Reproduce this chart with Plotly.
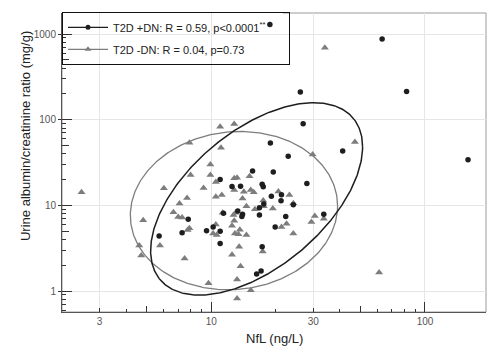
import numpy as np
import plotly.graph_objects as go

# ---------------- data ----------------
# T2D +DN (black circles): NfL (ng/L), UACR (mg/g)
dn_nfl = [18.8, 63, 82, 159, 26.1, 26.9, 18.9, 22.9, 41.2, 15.6,
          19.5, 17.3, 17.5, 28.0, 12.5, 13.7, 11.0, 19.1, 21.3, 21.2,
          24.2, 16.8, 17.6, 13.3, 14.0, 13.9, 16.8, 22.3, 19.9, 33.6,
          17.3, 16.3, 17.1, 7.8, 7.3, 5.7, 9.5, 10.2, 11.0, 11.0, 11.4]
dn_uacr = [1290, 875, 213, 34, 210, 90, 53.6, 37.4, 43.2, 25.2,
           24.5, 17.7, 16.5, 18.0, 16.6, 16.7, 20.1, 12.8, 13.3, 11.3,
           10.2, 9.4, 10.4, 8.6, 7.9, 7.4, 7.7, 7.4, 5.6, 7.9,
           3.3, 1.58, 1.71, 6.9, 4.8, 4.4, 5.05, 5.6, 5.0, 3.6, 8.1]

# T2D -DN (grey triangles)
nodn_nfl = [2.47, 34, 47, 61, 29.8, 11.0, 12.8, 7.9, 11.1, 9.9,
            9.9, 8.0, 10.5, 12.8, 13.2, 15.1, 6.0, 9.2, 7.7, 7.1,
            4.8, 6.65, 7.0, 7.3, 7.9, 7.75, 4.6, 5.75, 4.7, 7.5,
            9.7, 10.5, 11.2, 10.5, 10.2, 10.6, 11.3, 12.8, 14.2, 15.3,
            15.8, 14.0, 17.5, 20.6, 23.2, 24.2, 14.6, 16.0, 17.6, 19.4,
            13.0, 12.7, 12.8, 12.5, 13.6, 12.9, 13.4, 14.6, 22.5, 21.3,
            24.2, 29.4, 30.5, 33.6, 13.5, 12.5, 17.4, 13.7, 13.2, 15.3, 13.2]
nodn_uacr = [14.2, 690, 55, 1.65, 39.3, 83, 89, 54, 47, 30,
             22.6, 22.6, 18.7, 20.7, 21.0, 21.9, 15.8, 16.0, 12.2, 10.5,
             6.7, 8.3, 7.3, 7.2, 5.4, 5.15, 3.4, 3.4, 2.6, 2.4,
             1.23, 12.6, 13.2, 6.0, 4.7, 4.5, 8.2, 15.1, 14.4, 15.1,
             14.2, 12.0, 11.4, 14.5, 13.2, 10.6, 9.8, 9.0, 9.8, 9.2,
             8.2, 7.7, 6.6, 5.8, 5.2, 4.7, 4.6, 4.5, 6.1, 5.6,
             4.7, 6.4, 7.5, 7.0, 3.3, 2.65, 2.9, 1.95, 1.36, 1.02, 0.82]

# Confidence ellipses in log10 space: centre x, centre y, half-width x, half-height y, correlation
dn_ellipse = [1.212, 1.076, 0.496, 1.123, 0.54]
nodn_ellipse = [1.106, 0.939, 0.485, 0.924, 0.06]

legend_names = ["T2D +DN: R = 0.59, p<0.0001<sup>**</sup>", "T2D -DN: R = 0.04, p=0.73"]

x_tick_vals = [3, 10, 30, 100]
x_tick_text = ["3", "10", "30", "100"]
y_tick_vals = [1, 10, 100, 1000]
y_tick_text = ["1", "10", "100", "1000"]
x_minor = [2, 4, 6, 7, 8, 9, 20, 40, 60, 70, 80, 90]
x_mid = [5, 50]
x_decade = [10, 100]
y_minor = [0.6, 0.7, 0.8, 0.9, 2, 3, 4, 6, 7, 8, 9, 20, 30, 40, 60, 70, 80, 90,
           200, 300, 400, 600, 700, 800, 900]
y_mid = [5, 50, 500]
y_decade = [1, 10, 100, 1000]

x_range = [0.3013, 2.2855]
y_range = [-0.2444, 3.2456]

DARK = "#1e1e1e"
GREY = "#7d7d7d"
FONT = "Liberation Sans, Arial, sans-serif"
PAD = "\u00a0" * 6   # extra room at the right of the legend box


def ellipse(p):
    cx, cy, sx, sy, rho = p
    t = np.linspace(0, 2 * np.pi, 361)
    lx = cx + sx * np.cos(t)
    ly = cy + sy * (rho * np.cos(t) + np.sqrt(1 - rho ** 2) * np.sin(t))
    return 10 ** lx, 10 ** ly


fig = go.Figure()

fig.add_trace(go.Scatter(x=nodn_nfl, y=nodn_uacr, mode="markers",
                         marker=dict(symbol="triangle-up", size=7, color=GREY),
                         showlegend=False, hoverinfo="skip"))
fig.add_trace(go.Scatter(x=dn_nfl, y=dn_uacr, mode="markers",
                         marker=dict(symbol="circle", size=5.5, color=DARK),
                         showlegend=False, hoverinfo="skip"))

ex, ey = ellipse(nodn_ellipse)
fig.add_trace(go.Scatter(x=ex, y=ey, mode="lines", line=dict(color=GREY, width=1.3),
                         showlegend=False, hoverinfo="skip"))
ex, ey = ellipse(dn_ellipse)
fig.add_trace(go.Scatter(x=ex, y=ey, mode="lines", line=dict(color=DARK, width=1.5),
                         showlegend=False, hoverinfo="skip"))

# legend entries
fig.add_trace(go.Scatter(x=[None], y=[None], mode="lines+markers", name=legend_names[0] + PAD,
                         line=dict(color=DARK, width=1.3),
                         marker=dict(symbol="circle", size=5, color=DARK),
                         legendgroup="a"))
fig.add_trace(go.Scatter(x=[None], y=[None], mode="lines+markers", name=legend_names[1],
                         line=dict(color=GREY, width=1.3),
                         marker=dict(symbol="triangle-up", size=6, color=GREY),
                         legendgroup="b"))

# invisible traces to activate the overlay axes used for extra tick lengths
for xa, ya in [("x2", "y"), ("x3", "y"), ("x", "y2"), ("x", "y3")]:
    fig.add_trace(go.Scatter(x=[10], y=[10], xaxis=xa, yaxis=ya, mode="markers",
                             marker=dict(opacity=0), showlegend=False, hoverinfo="skip"))

tickfont = dict(family=FONT, size=10, color="#555555")
common = dict(type="log", zeroline=False, tickcolor="#333333", tickwidth=1)

# page body has an 8px margin: figure is 16px smaller than the window
fig.update_layout(
    width=481, height=342,
    margin=dict(l=54, r=3, t=5, b=38),
    paper_bgcolor="white", plot_bgcolor="white",
    font=dict(family=FONT, size=11, color="#222222"),
    xaxis=dict(**common, range=x_range, tickmode="array", tickvals=x_tick_vals,
               ticktext=x_tick_text, ticks="inside", ticklen=4, tickfont=tickfont,
               showline=True, linecolor="#555555", linewidth=1,
               showgrid=True, gridcolor="#e6e6e6", gridwidth=1,
               minor=dict(tickmode="array", tickvals=x_minor, ticks="inside", ticklen=3,
                          tickcolor="#333333", showgrid=False)),
    xaxis2=dict(**common, range=x_range, overlaying="x", anchor="y", side="bottom",
                tickmode="array", tickvals=x_mid, ticks="inside", ticklen=6,
                showticklabels=False, showgrid=False, showline=False),
    xaxis3=dict(**common, range=x_range, overlaying="x", anchor="y", side="bottom",
                tickmode="array", tickvals=x_decade, ticks="inside", ticklen=10,
                showticklabels=False, showgrid=False, showline=False),
    yaxis=dict(**common, range=y_range, tickmode="array", tickvals=y_tick_vals,
               ticktext=y_tick_text, ticks="outside", ticklen=3, tickfont=tickfont,
               showline=True, linecolor="#555555", linewidth=1,
               showgrid=True, gridcolor="#e6e6e6", gridwidth=1,
               minor=dict(tickmode="array", tickvals=y_minor, ticks="inside", ticklen=4,
                          tickcolor="#333333", showgrid=False)),
    yaxis2=dict(**common, range=y_range, overlaying="y", anchor="x", side="left",
                tickmode="array", tickvals=y_mid, ticks="inside", ticklen=7,
                showticklabels=False, showgrid=False, showline=False),
    yaxis3=dict(**common, range=y_range, overlaying="y", anchor="x", side="left",
                tickmode="array", tickvals=y_decade, ticks="inside", ticklen=10,
                showticklabels=False, showgrid=False, showline=False),
    legend=dict(x=0, y=1.004, xanchor="left", yanchor="top",
                bgcolor="rgba(0,0,0,0)", bordercolor="#111111", borderwidth=1,
                font=dict(family=FONT, size=11, color="#222222"),
                itemwidth=40, tracegroupgap=3),
    shapes=[
        dict(type="rect", xref="paper", yref="paper", x0=0, x1=1, y0=0, y1=1,
             line=dict(color="#9a9a9a", width=1), layer="below"),
        dict(type="rect", xref="paper", yref="paper", x0=0, x1=0.521, y0=0.823, y1=1.004,
             line=dict(width=0), fillcolor="white", layer="between"),
    ],
    annotations=[
        dict(text="NfL (ng/L)", xref="paper", yref="paper", x=0.5, y=-0.088,
             xanchor="center", yanchor="middle", showarrow=False,
             font=dict(family=FONT, size=13, color="#222222")),
        dict(text="Urine albumin/creatinine ratio (mg/g)", xref="paper", yref="paper",
             x=-0.086, y=0.587, xanchor="center", yanchor="middle", textangle=-90,
             showarrow=False, font=dict(family=FONT, size=13, color="#222222")),
    ],
)

fig.write_html("out.html")
